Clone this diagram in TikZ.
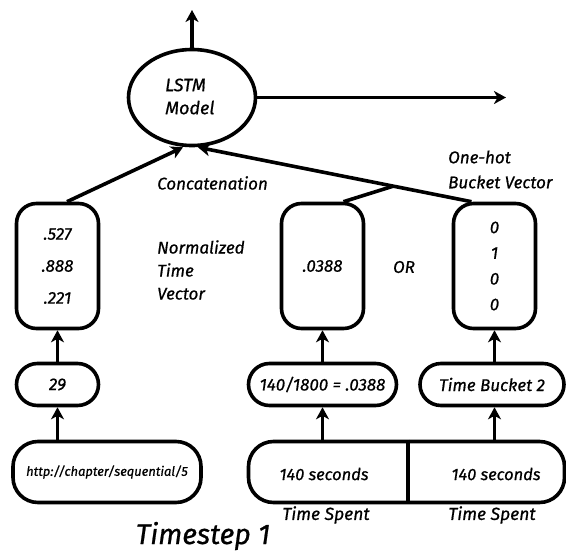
\documentclass[tikz,border=0pt]{standalone}
\usepackage{fontspec}
\setmainfont{Fira Sans}[ItalicFeatures={FakeBold=0.7}]
\usetikzlibrary{arrows.meta,calc,shapes.geometric}
\begin{document}
\begin{tikzpicture}[x=1pt,y=-1pt,
  every node/.style={font=\itshape\fontsize{17}{23}\selectfont, inner sep=0pt},
  line/.style={line width=3.6pt},
  arr/.style={line width=3.6pt,-{Stealth[length=12pt,width=13pt,inset=3.5pt]}},
  tallbox/.style={draw,line width=3.6pt,rounded corners=20pt,minimum width=82pt,minimum height=125pt,align=center},
  pill/.style={draw,line width=3.6pt,rounded corners=21pt,minimum height=42pt},
  bigbox/.style={draw,line width=3.6pt,rounded corners=25pt,minimum height=61pt},
  lbl/.style={align=left}
]
\useasboundingbox (0,0) rectangle (566,552);

% LSTM
\node[draw,ellipse,line width=3.6pt,minimum width=127pt,minimum height=96pt] (lstm) at (192,97.5) {};
\node[lbl,anchor=west,font=\itshape\fontsize{18}{23}\selectfont] (lstmtxt) at (165,96.5) {LSTM\\Model};
\coordinate (up) at (192,10);
\coordinate (rt) at (506,99);
\draw[arr] (lstm.north) -- (up);
\draw[arr] (lstm.east) -- (rt |- lstm.east);

% tall boxes
\node[tallbox,font=\itshape\fontsize{17}{32}\selectfont] (tl) at (57.5,266) {.527\\.888\\.221};
\node[tallbox] (tm) at (322.5,266) {.0388};
\node[tallbox,font=\itshape\fontsize{17}{25.7}\selectfont] (tr) at (494.5,266) {0\\1\\0\\0};

% labels
\node[anchor=west] (concat) at (157,183) {Concatenation};
\node[lbl,anchor=west] (ntv) at (157,270) {Normalized\\Time\\Vector};
\node[lbl,anchor=west,font=\itshape\fontsize{17}{25}\selectfont] (oh) at (448,169.5) {One-hot\\Bucket Vector};
\node (or) at (404,267) {OR};

% connectors to LSTM
\coordinate (inL) at ($(lstm.south)+(-9,0)$);
\coordinate (inR) at ($(lstm.south)+(6,0)$);
\coordinate (sL) at ($(tl.north)+(9.5,0)$);
\coordinate (sR) at ($(tr.north)+(-23,0)$);
\coordinate (sM) at ($(tm.north)+(21,0)$);
\coordinate (jn) at ($(sR)!0.286!(inR)$);
\draw[arr] (sL) -- (inL);
\draw[arr] (sR) -- (inR);
\draw[line] (sM) -- (jn);

% pills
\node[pill,minimum width=82pt] (p29) at (57.5,384.5) {29};
\node[pill,minimum width=148pt] (p1) at (322.5,384.5) {140/1800 = .0388};
\node[pill,minimum width=144pt] (p2) at (492,384.5) {Time Bucket 2};

% bottom boxes
\node[bigbox,minimum width=188pt,font=\itshape\fontsize{12.9}{15}\selectfont] (url) at (107,472) {http://chapter/sequential/5};
\node[bigbox,minimum width=316pt] (ts) at (406.5,472) {};
\coordinate (dv) at (408,472);
\draw[line] (dv |- ts.north) -- (dv |- ts.south);
\node[font=\itshape\fontsize{16.5}{20}\selectfont] (sec1) at (324,474) {140 seconds};
\node[font=\itshape\fontsize{16.5}{20}\selectfont] (sec2) at (496,474) {140 seconds};
\node[font=\itshape\fontsize{17.5}{20}\selectfont] (tsp1) at (326,515) {Time Spent};
\node[font=\itshape\fontsize{17.5}{20}\selectfont] (tsp2) at (492,515) {Time Spent};
\node[font=\itshape\fontsize{28.4}{32}\selectfont] (step) at (203,536) {Timestep 1};

% vertical arrows
\draw[arr] (p29.north) -- (tl.south);
\draw[arr] (p29 |- url.north) -- (p29.south);
\draw[arr] (p1.north) -- (tm.south);
\draw[arr] (tm |- ts.north) -- (tm |- p1.south);
\draw[arr] (tr |- p2.north) -- (tr.south);
\draw[arr] (tr |- ts.north) -- (tr |- p2.south);
\end{tikzpicture}
\end{document}
